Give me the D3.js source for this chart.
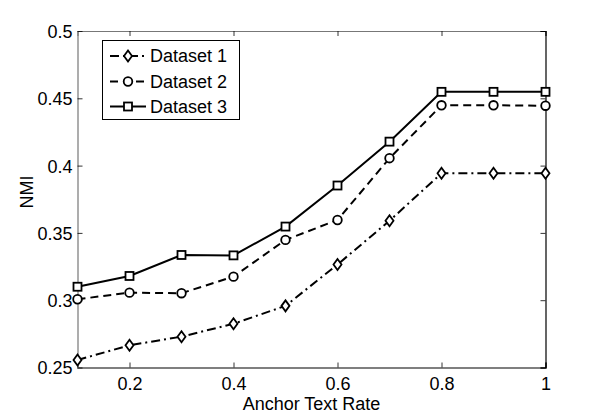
<!DOCTYPE html>
<html><head><meta charset="utf-8">
<script src="https://cdn.jsdelivr.net/npm/d3@7"></script>
<style>body{margin:0;background:#fff}svg{display:block}text{font-family:"Liberation Sans",Arial,sans-serif;fill:#000}</style>
</head><body><svg id="c" width="602" height="415"></svg>
<script>
const xValues = [0.1,0.2,0.3,0.4,0.5,0.6,0.7,0.8,0.9,1.0];
const dataset1 = [0.2556,0.2665,0.2729,0.2825,0.2958,0.3265,0.3590,0.3943,0.3943,0.3943];
const dataset2 = [0.3007,0.3056,0.3052,0.3175,0.3448,0.3596,0.4055,0.4448,0.4448,0.4445];
const dataset3 = [0.3100,0.3180,0.3336,0.3333,0.3547,0.3852,0.4178,0.4548,0.4548,0.4548];
const seriesNames = ["Dataset 1","Dataset 2","Dataset 3"];
const xTicks = [0.2,0.4,0.6,0.8,1];
const yTicks = [0.25,0.3,0.35,0.4,0.45,0.5];

const svg = d3.select("#c");
const L=77.5, R=545.5, T=31, B=367.5;
const FS = "18px";
const x = d3.scaleLinear().domain([0.1,1]).range([L,R]);
const y = d3.scaleLinear().domain([0.25,0.5]).range([B,T]);

const fmt = d => String(+d.toFixed(2));
// axes
const gB = svg.append("g").attr("transform",`translate(0,${B})`)
  .call(d3.axisBottom(x).tickValues(xTicks).tickSize(-5).tickPadding(9.5).tickFormat(fmt));
const gT = svg.append("g").attr("transform",`translate(0,${T})`)
  .call(d3.axisTop(x).tickValues(xTicks).tickSize(-5).tickFormat(""));
const gL = svg.append("g").attr("transform",`translate(${L},0)`)
  .call(d3.axisLeft(y).tickValues(yTicks).tickSize(-5).tickPadding(5).tickFormat(fmt));
const gR = svg.append("g").attr("transform",`translate(${R},0)`)
  .call(d3.axisRight(y).tickValues(yTicks).tickSize(-5).tickFormat(""));
[gB,gT,gL,gR].forEach(g=>{
  g.select(".domain").attr("stroke","#000").attr("stroke-width",1.2);
  g.selectAll(".tick line").attr("stroke","#000").attr("stroke-width",0.8);
  g.selectAll("text").style("font-size",FS).style("font-family","Liberation Sans, Arial, sans-serif").attr("fill","#000");
});
gL.select(".domain").attr("stroke","#777");
gT.select(".domain").attr("stroke","#777");
gL.selectAll(".tick text").attr("dy","0.36em");

// axis labels
svg.append("text").attr("x",(L+R)/2).attr("y",410).attr("text-anchor","middle").style("font-size",FS).text("Anchor Text Rate");
svg.append("text").attr("transform",`translate(33,192) rotate(-90)`).attr("text-anchor","middle").style("font-size",FS).text("NMI");

const styles = [
  {vals:dataset1, dash:"9,4,2,4", marker:"diamond"},
  {vals:dataset2, dash:"8,5", marker:"circle"},
  {vals:dataset3, dash:null, marker:"square"}
];
function drawMarker(g, type, cx, cy){
  if(type==="diamond"){
    g.append("path").attr("d",`M${cx},${cy-5.5}L${cx+4},${cy}L${cx},${cy+5.5}L${cx-4},${cy}Z`)
      .attr("fill","#fff").attr("stroke","#000").attr("stroke-width",1.8);
  } else if(type==="circle"){
    g.append("circle").attr("cx",cx).attr("cy",cy).attr("r",4.3)
      .attr("fill","#fff").attr("stroke","#000").attr("stroke-width",1.8);
  } else {
    g.append("rect").attr("x",cx-4).attr("y",cy-4).attr("width",8).attr("height",8)
      .attr("fill","#fff").attr("stroke","#000").attr("stroke-width",1.8);
  }
}
const line = d3.line().x((d,i)=>x(xValues[i])).y(d=>y(d));
styles.forEach(s=>{
  const g = svg.append("g");
  g.append("path").datum(s.vals).attr("d",line).attr("fill","none")
    .attr("stroke","#000").attr("stroke-width",2).attr("stroke-dasharray",s.dash);
  s.vals.forEach((v,i)=>drawMarker(g,s.marker,x(xValues[i]),y(v)));
});

// legend
const lg = svg.append("g");
lg.append("rect").attr("x",102.5).attr("y",40.5).attr("width",137).attr("height",79)
  .attr("fill","#fff").attr("stroke","#000").attr("stroke-width",1);
const rowY = [56,81.5,106.5];
styles.forEach((s,i)=>{
  lg.append("line").attr("x1",110).attr("x2",146).attr("y1",rowY[i]).attr("y2",rowY[i])
    .attr("stroke","#000").attr("stroke-width",2).attr("stroke-dasharray",s.dash);
  drawMarker(lg,s.marker,128,rowY[i]);
  lg.append("text").attr("x",150).attr("y",rowY[i]).attr("dy","0.36em").style("font-size",FS).text(seriesNames[i]);
});
</script></body></html>
